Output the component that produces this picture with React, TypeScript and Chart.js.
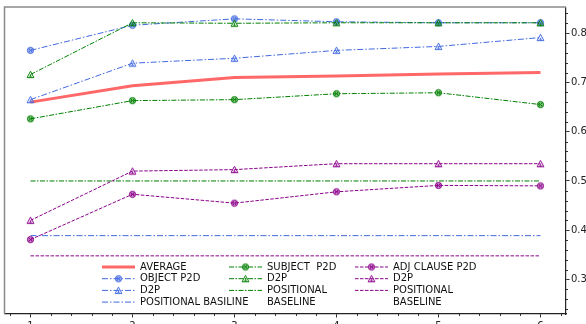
import React, { useEffect, useRef } from 'react';
import { Chart, registerables } from 'chart.js';

Chart.register(...registerables);

const X_VALUES = [1, 2, 3, 4, 5, 6];
const X_TICKS = [1, 2, 3, 4, 5, 6];
const Y_TICKS = [0.3, 0.4, 0.5, 0.6, 0.7, 0.8];

const AVERAGE = [0.66, 0.693, 0.71, 0.713, 0.717, 0.72];
const OBJECT_P2D = [0.765, 0.816, 0.829, 0.823, 0.821, 0.821];
const OBJECT_D2P = [0.665, 0.739, 0.749, 0.765, 0.773, 0.791];
const OBJECT_BASE = [0.389, 0.389, 0.389, 0.389, 0.389, 0.389];
const SUBJECT_P2D = [0.626, 0.663, 0.665, 0.677, 0.679, 0.655];
const SUBJECT_D2P = [0.716, 0.821, 0.82, 0.821, 0.821, 0.821];
const SUBJECT_BASE = [0.5, 0.5, 0.5, 0.5, 0.5, 0.5];
const ADJ_P2D = [0.381, 0.473, 0.455, 0.478, 0.491, 0.49];
const ADJ_D2P = [0.42, 0.52, 0.523, 0.535, 0.535, 0.535];
const ADJ_BASE = [0.348, 0.348, 0.348, 0.348, 0.348, 0.348];

const LABELS = [
  'AVERAGE',
  'OBJECT P2D',
  'D2P',
  'POSITIONAL BASILINE',
  'SUBJECT  P2D',
  'D2P',
  'POSITIONAL\nBASELINE',
  'ADJ CLAUSE P2D',
  'D2P',
  'POSITIONAL\nBASELINE',
];

const RED = '#ff6868';
const BLUE = '#4169e1';
const GREEN = '#008000';
const PURPLE = '#8b008b';

const FONT = '"DejaVu Sans", sans-serif';

function circleMarker(color: string): HTMLCanvasElement {
  const c = document.createElement('canvas');
  c.width = 9;
  c.height = 9;
  const g = c.getContext('2d')!;
  g.beginPath();
  g.arc(4.5, 4.5, 3.1, 0, Math.PI * 2);
  g.globalAlpha = 0.5;
  g.fillStyle = color;
  g.fill();
  g.globalAlpha = 1;
  g.lineWidth = 1;
  g.strokeStyle = color;
  g.stroke();
  g.beginPath();
  g.moveTo(2.4, 2.4);
  g.lineTo(6.6, 6.6);
  g.moveTo(6.6, 2.4);
  g.lineTo(2.4, 6.6);
  g.lineWidth = 1;
  g.stroke();
  return c;
}

function triangleMarker(color: string): HTMLCanvasElement {
  const c = document.createElement('canvas');
  c.width = 9;
  c.height = 9;
  const g = c.getContext('2d')!;
  g.beginPath();
  g.moveTo(4.5, 1.2);
  g.lineTo(7.9, 7.6);
  g.lineTo(1.1, 7.6);
  g.closePath();
  g.lineWidth = 1;
  g.strokeStyle = color;
  g.stroke();
  g.beginPath();
  g.moveTo(4.5, 4.4);
  g.lineTo(5.9, 6.8);
  g.lineTo(3.1, 6.8);
  g.closePath();
  g.fillStyle = color;
  g.fill();
  return c;
}

const DASH_DOT = [6, 2, 1.5, 2];
const DASH_DOT_G = [5, 1.5, 1.5, 1.5];
const DASHED = [3.5, 1.5];

const LEGEND_COLUMNS = [
  [0, 1, 2, 3],
  [4, 5, 6],
  [7, 8, 9],
];
const LEGEND_TEXT_X = [140, 267, 393];
const LEGEND_ROW_Y = 267;
const LEGEND_ROW_H = 11.7;

const decorPlugin = {
  id: 'decor',
  afterDraw(chart: any) {
    const ctx = chart.ctx as CanvasRenderingContext2D;
    const { left, top, right, bottom } = chart.chartArea;
    const xs = chart.scales.x;
    const ys = chart.scales.y;
    ctx.save();
    ctx.strokeStyle = '#8a8a8a';
    ctx.lineWidth = 1.5;
    ctx.beginPath();
    ctx.moveTo(left - 0.5, bottom);
    ctx.lineTo(left - 0.5, top - 0.5);
    ctx.lineTo(right, top - 0.5);
    ctx.stroke();
    ctx.strokeStyle = '#333';
    ctx.lineWidth = 1;
    ctx.beginPath();
    for (let k = 4; k <= 31; k++) {
      if (k % 5 === 0) continue;
      const px = Math.round(xs.getPixelForValue(k * 0.2)) + 0.5;
      ctx.moveTo(px, bottom);
      ctx.lineTo(px, bottom + 2);
    }
    for (let k = 12; k <= 42; k++) {
      if (k % 5 === 0) continue;
      const py = Math.round(ys.getPixelForValue(k * 0.02)) + 0.5;
      ctx.moveTo(right, py);
      ctx.lineTo(right + 2, py);
    }
    ctx.stroke();

    const datasets = chart.data.datasets;
    ctx.font = `10px ${FONT}`;
    ctx.textBaseline = 'middle';
    ctx.textAlign = 'left';
    LEGEND_COLUMNS.forEach((col, ci) => {
      const tx = LEGEND_TEXT_X[ci];
      let row = 0;
      col.forEach((di) => {
        const ds = datasets[di];
        const y = LEGEND_ROW_Y + row * LEGEND_ROW_H;
        const x0 = tx - 38;
        const x1 = tx - 5;
        ctx.save();
        ctx.strokeStyle = ds.borderColor;
        ctx.lineWidth = ds.borderWidth;
        ctx.setLineDash(ds.borderDash || []);
        ctx.beginPath();
        ctx.moveTo(x0, y);
        ctx.lineTo(x1, y);
        ctx.stroke();
        ctx.restore();
        if (ds.pointStyle && typeof ds.pointStyle !== 'string') {
          const img = ds.pointStyle as HTMLCanvasElement;
          ctx.drawImage(img, (x0 + x1) / 2 - img.width / 2, y - img.height / 2);
        }
        ctx.fillStyle = '#111';
        const lines = String(ds.label).split('\n');
        lines.forEach((ln, li) => {
          ctx.fillText(ln, tx, y + li * LEGEND_ROW_H);
        });
        row += lines.length;
      });
    });
    ctx.restore();
  },
};

function makeData(values: number[]) {
  return X_VALUES.map((x, i) => ({ x, y: values[i] }));
}

export default function App() {
  const ref = useRef<HTMLCanvasElement>(null);
  useEffect(() => {
    const series = [
      { label: LABELS[0], values: AVERAGE, color: RED, width: 3, dash: [], marker: null },
      { label: LABELS[1], values: OBJECT_P2D, color: BLUE, width: 1, dash: DASH_DOT, marker: circleMarker(BLUE) },
      { label: LABELS[2], values: OBJECT_D2P, color: BLUE, width: 1, dash: DASH_DOT, marker: triangleMarker(BLUE) },
      { label: LABELS[3], values: OBJECT_BASE, color: BLUE, width: 1, dash: DASH_DOT, marker: null },
      { label: LABELS[4], values: SUBJECT_P2D, color: GREEN, width: 1, dash: DASH_DOT_G, marker: circleMarker(GREEN) },
      { label: LABELS[5], values: SUBJECT_D2P, color: GREEN, width: 1, dash: DASH_DOT_G, marker: triangleMarker(GREEN) },
      { label: LABELS[6], values: SUBJECT_BASE, color: GREEN, width: 1, dash: DASH_DOT_G, marker: null },
      { label: LABELS[7], values: ADJ_P2D, color: PURPLE, width: 1, dash: DASHED, marker: circleMarker(PURPLE) },
      { label: LABELS[8], values: ADJ_D2P, color: PURPLE, width: 1, dash: DASHED, marker: triangleMarker(PURPLE) },
      { label: LABELS[9], values: ADJ_BASE, color: PURPLE, width: 1, dash: DASHED, marker: null },
    ];
    const n = series.length;
    const chart = new Chart(ref.current!, {
      type: 'line',
      data: {
        datasets: series.map((s, i) => ({
          label: s.label,
          data: makeData(s.values),
          borderColor: s.color,
          backgroundColor: s.color,
          borderWidth: s.width,
          borderDash: s.dash,
          pointStyle: s.marker ? (s.marker as any) : 'circle',
          pointRadius: s.marker ? 4 : 0,
          pointHoverRadius: 0,
          tension: 0,
          fill: false,
          order: n - i,
        })),
      },
      options: {
        animation: false,
        responsive: false,
        devicePixelRatio: 1,
        layout: { padding: { left: 2, top: 2, right: 0, bottom: 0 } },
        plugins: { legend: { display: false }, tooltip: { enabled: false } },
        scales: {
          x: {
            type: 'linear',
            min: 0.75,
            max: 6.25,
            afterBuildTicks: (scale: any) => {
              scale.ticks = X_TICKS.map((v) => ({ value: v }));
            },
            afterFit: (scale: any) => {
              scale.height = 10;
            },
            ticks: {
              font: { family: FONT, size: 10 },
              color: '#222',
              padding: 2.5,
              maxRotation: 0,
              autoSkip: false,
              callback: (v: any) => String(v),
            },
            grid: { display: true, drawOnChartArea: false, tickLength: 3.5, color: '#333' },
            border: { display: true, color: '#222', width: 1.2 },
          },
          y: {
            type: 'linear',
            position: 'right',
            min: 0.23,
            max: 0.852,
            afterBuildTicks: (scale: any) => {
              scale.ticks = Y_TICKS.map((v) => ({ value: v }));
            },
            afterFit: (scale: any) => {
              scale.width = 20;
            },
            ticks: {
              font: { family: FONT, size: 10 },
              color: '#222',
              padding: 1.5,
              autoSkip: false,
              callback: (v: any) => Number(v).toFixed(1),
            },
            grid: { display: true, drawOnChartArea: false, tickLength: 3.5, color: '#333' },
            border: { display: true, color: '#222', width: 1.2 },
          },
        },
      },
      plugins: [decorPlugin],
    });
    return () => chart.destroy();
  }, []);
  return (
    <div style={{ position: 'fixed', left: 0, top: 0, width: 586, height: 324, background: '#fff', overflow: 'hidden' }}>
      <canvas ref={ref} width={586} height={324} style={{ display: 'block', width: 586, height: 324 }} />
    </div>
  );
}
